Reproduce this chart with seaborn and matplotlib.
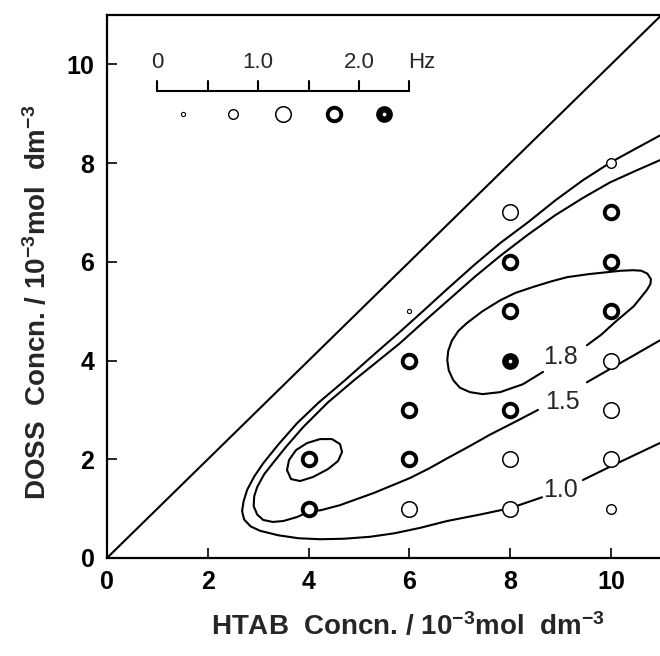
"""Frequency map of HTAB/DOSS mixtures with iso-frequency contours."""
import matplotlib
matplotlib.use("Agg")
import matplotlib.pyplot as plt
import numpy as np
import pandas as pd
import seaborn as sns

sns.set_theme(style="white")
plt.rcParams["font.family"] = ["Liberation Sans Narrow", "Liberation Sans", "DejaVu Sans"]
plt.rcParams["mathtext.default"] = "regular"

# measured points: HTAB, DOSS (10^-3 mol dm^-3) and frequency band (0..4 -> 0-0.5 ... 2.0-2.5 Hz)
htab = [4, 4, 6, 6, 6, 6, 6, 8, 8, 8, 8, 8, 8, 8, 10, 10, 10, 10, 10, 10, 10, 10]
doss = [1, 2, 1, 2, 3, 4, 5, 1, 2, 3, 4, 5, 6, 7, 1, 2, 3, 4, 5, 6, 7, 8]
band = [3, 3, 2, 3, 3, 3, 0, 2, 2, 3, 4, 3, 3, 2, 1, 2, 2, 2, 3, 3, 3, 1]

# iso-frequency contours (nan = gap for label)
c10_x = [10.97, 10.0, 9.44, np.nan, 8.63, 8.0, 7.4, 6.75, 6.21, 5.7, 5.22, 4.7, 4.23, 3.80,
         3.40, 3.04, 2.85, 2.72, 2.68, 2.71, 2.78, 2.92, 3.10, 3.40, 3.77, 4.20, 4.72,
         5.25, 5.81, 6.30, 6.75, 7.30, 7.80, 8.35, 8.90, 9.45, 10.0, 10.5, 10.97]
c10_y = [2.33, 1.86, 1.58, np.nan, 1.23, 1.01, 0.88, 0.75, 0.61, 0.50, 0.43, 0.39, 0.38, 0.40,
         0.46, 0.55, 0.64, 0.78, 0.95, 1.15, 1.38, 1.65, 1.92, 2.30, 2.73, 3.15, 3.60,
         4.08, 4.58, 5.03, 5.45, 5.95, 6.38, 6.80, 7.25, 7.66, 8.02, 8.30, 8.56]

c15_x = [10.97, 9.52, np.nan, 8.55, 8.10, 7.60, 7.20, 6.75, 6.40, 6.01, 5.30, 4.62, 4.25,
         3.99, 3.77, 3.50, 3.29, 3.10, 2.98, 2.91, 2.92, 2.98, 3.12, 3.29, 3.55, 3.89,
         4.38, 4.90, 5.35, 5.81, 6.30, 6.80, 7.30, 7.80, 8.35, 8.90, 9.45, 9.98, 10.5, 10.97]
c15_y = [4.41, 3.56, np.nan, 3.00, 2.76, 2.50, 2.27, 2.02, 1.82, 1.62, 1.32, 1.07, 0.97,
         0.93, 0.83, 0.75, 0.73, 0.77, 0.88, 1.05, 1.25, 1.44, 1.70, 1.92, 2.25, 2.65,
         3.15, 3.60, 3.97, 4.35, 4.80, 5.25, 5.70, 6.12, 6.55, 6.95, 7.30, 7.61, 7.85, 8.06]

c18_x = [8.65, 8.25, 7.80, 7.45, 7.20, 7.00, 6.87, 6.78, 6.75, 6.77, 6.84, 6.97, 7.14,
         7.45, 7.80, 8.10, 8.45, 8.80, 9.13, 9.55, 9.92, 10.20, 10.44, 10.60, 10.72,
         10.79, 10.78, 10.71, 10.45, 10.08, 9.80, 9.52]
c18_y = [3.77, 3.52, 3.36, 3.32, 3.36, 3.45, 3.60, 3.80, 4.01, 4.20, 4.40, 4.60, 4.76,
         5.00, 5.22, 5.37, 5.49, 5.60, 5.69, 5.75, 5.79, 5.82, 5.83, 5.82, 5.76,
         5.65, 5.55, 5.43, 5.10, 4.78, 4.52, 4.31]

c20_x = [3.571, 3.611, 3.750, 3.968, 4.226, 4.464, 4.623, 4.663, 4.583, 4.385, 4.087,
         3.829, 3.651, 3.571]
c20_y = [1.781, 1.984, 2.186, 2.328, 2.409, 2.409, 2.308, 2.146, 1.964, 1.802, 1.640,
         1.559, 1.599, 1.781]

contour_labels = ["1.0", "1.5", "1.8"]
label_x = [8.99, 9.03, 9.00]
label_y = [1.38, 3.16, 4.07]

# legend scale (Hz)
scale_ticks = [0, 0.5, 1.0, 1.5, 2.0, 2.5]
scale_text = ["0", "1.0", "2.0", "Hz"]
scale_text_hz = [0, 1.0, 2.0, 2.62]
legend_hz = [0.25, 0.75, 1.25, 1.75, 2.25]
legend_band = [0, 1, 2, 3, 4]

# marker look per band: (size, edge width)
BAND_STYLE = {0: (9, 0.8), 1: (48, 1.0), 2: (125, 1.1), 3: (95, 2.8), 4: (55, 4.6)}


def hz_to_x(hz):
    return 1.0 + 2.0 * np.asarray(hz, dtype=float)


def draw_points(frame, xcol, ycol):
    for b, grp in frame.groupby("band"):
        s, lw = BAND_STYLE[b]
        sns.scatterplot(data=grp, x=xcol, y=ycol, ax=ax, s=s, marker="o",
                        facecolor="white", edgecolor="black", linewidth=lw,
                        zorder=3, legend=False)


fig = plt.figure(figsize=(6.6, 6.56), dpi=100)
ax = fig.add_axes([0.1621, 0.1494, 0.8379, 0.8277])
ax.set_xlim(0, 10.97)
ax.set_ylim(0, 11)

line_kw = dict(color="black", linewidth=1.5, solid_capstyle="round",
               solid_joinstyle="round", zorder=2)
ax.plot([0, 11], [0, 11], **line_kw)
for cx, cy in [(c10_x, c10_y), (c15_x, c15_y), (c18_x, c18_y), (c20_x, c20_y)]:
    ax.plot(cx, cy, **line_kw)

for txt, lx, ly in zip(contour_labels, label_x, label_y):
    ax.text(lx, ly, txt, fontsize=18, ha="center", va="center", zorder=4)

draw_points(pd.DataFrame({"htab": htab, "doss": doss, "band": band}), "htab", "doss")

# legend: scale bar with ticks, labels and example markers
bar_y = 9.47
ax.plot(hz_to_x([0, 2.5]), [bar_y, bar_y], color="black", linewidth=1.5)
for t in hz_to_x(scale_ticks):
    ax.plot([t, t], [bar_y, bar_y + 0.2], color="black", linewidth=1.5)
for txt, hz in zip(scale_text, scale_text_hz):
    ax.text(hz_to_x(hz), 10.04, txt, fontsize=16, ha="center", va="center")
draw_points(pd.DataFrame({"x": hz_to_x(legend_hz), "y": 9.0, "band": legend_band}), "x", "y")

ax.set_xticks([0, 2, 4, 6, 8, 10])
ax.set_yticks([0, 2, 4, 6, 8, 10])
ax.tick_params(direction="in", length=7, width=1.2, labelsize=18, pad=9,
               bottom=True, left=True, colors="black")
for lab in ax.get_xticklabels() + ax.get_yticklabels():
    lab.set_fontweight("bold")
for side in ["left", "bottom", "top"]:
    ax.spines[side].set_color("black")
    ax.spines[side].set_linewidth(1.6)
ax.spines["right"].set_visible(False)

ax.set_xlabel(r"HTAB  Concn. $/$ 10$^{-3}$mol  dm$^{-3}$", fontsize=20, fontweight="bold")
ax.set_ylabel(r"DOSS  Concn. $/$ 10$^{-3}$mol  dm$^{-3}$", fontsize=20, fontweight="bold")
ax.xaxis.set_label_coords(0.545, -0.10)
ax.yaxis.set_label_coords(-0.10, 0.47)

fig.savefig("out.png", dpi=100)
